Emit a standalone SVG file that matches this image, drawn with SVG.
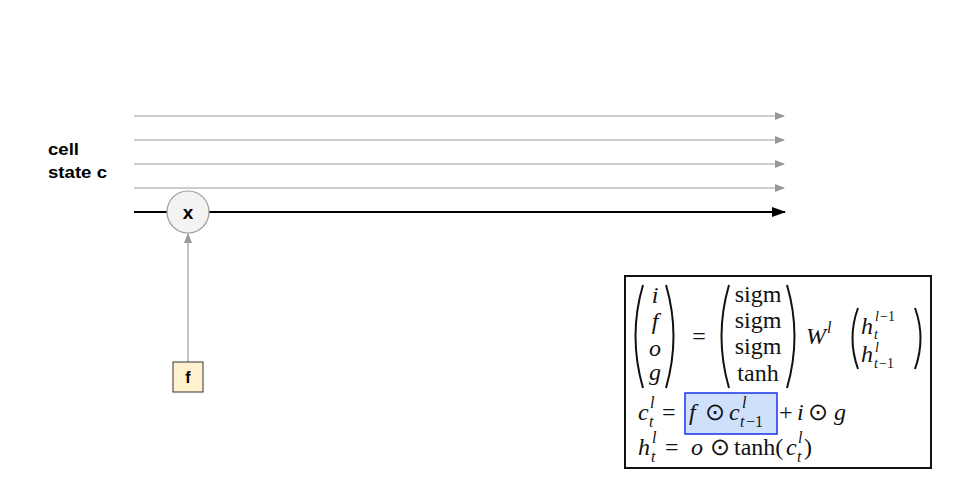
<svg xmlns="http://www.w3.org/2000/svg" width="954" height="478" viewBox="0 0 954 478">
<style>
.thin{stroke:#999;stroke-width:1.2;fill:none}
.lbl{font-family:"Liberation Sans",Arial,sans-serif;font-weight:bold;font-size:16px;fill:#000}
.m{font-family:"Liberation Serif","Times New Roman",serif;font-size:24px;fill:#111}
.mi{font-family:"Liberation Serif","Times New Roman",serif;font-size:24px;font-style:italic;fill:#111}
.s{font-family:"Liberation Serif","Times New Roman",serif;font-size:16px;font-style:italic;fill:#111}
.sn{font-family:"Liberation Serif","Times New Roman",serif;font-size:16px;fill:#111}
.s2{font-family:"Liberation Serif","Times New Roman",serif;font-size:14px;font-style:italic;fill:#111}
.sn2{font-family:"Liberation Serif","Times New Roman",serif;font-size:14px;fill:#111}
.par{fill:none;stroke:#111;stroke-width:2}
</style>
<defs>
<marker id="ag" markerWidth="10" markerHeight="8" refX="9" refY="4" orient="auto" markerUnits="userSpaceOnUse"><path d="M0,0 L10,4 L0,8 z" fill="#999"/></marker>
<marker id="ab" markerWidth="14" markerHeight="10" refX="13" refY="5" orient="auto" markerUnits="userSpaceOnUse"><path d="M0,0 L14,5 L0,10 z" fill="#000"/></marker>
</defs>
<rect width="954" height="478" fill="#fff"/>
<g id="label">
<text class="lbl" x="48" y="155" textLength="31" lengthAdjust="spacingAndGlyphs">cell</text>
<text class="lbl" x="48" y="178" textLength="59" lengthAdjust="spacingAndGlyphs">state c</text>
</g>
<g id="connectors">
<line class="thin" x1="134" y1="116" x2="784" y2="116" marker-end="url(#ag)"/>
<line class="thin" x1="134" y1="140" x2="784" y2="140" marker-end="url(#ag)"/>
<line class="thin" x1="134" y1="164" x2="784" y2="164" marker-end="url(#ag)"/>
<line class="thin" x1="134" y1="188" x2="784" y2="188" marker-end="url(#ag)"/>
<line x1="134" y1="212" x2="167" y2="212" stroke="#000" stroke-width="2"/>
<line x1="209" y1="212" x2="785" y2="212" stroke="#000" stroke-width="2" marker-end="url(#ab)"/>
<line class="thin" x1="188" y1="362" x2="188" y2="234" marker-end="url(#ag)"/>
</g>
<g id="mult">
<circle cx="188" cy="212" r="21" fill="#f3f3f3" stroke="#999" stroke-width="1.2"/>
<text class="lbl" x="188" y="219" text-anchor="middle" style="font-size:19px">x</text>
</g>
<g id="gate-f">
<rect x="173" y="362" width="30" height="30" fill="#fff2cc" stroke="#333" stroke-width="1"/>
<text class="lbl" x="188" y="383" text-anchor="middle">f</text>
</g>
<g id="equations">
<rect x="625" y="276" width="306" height="192" fill="#fff" stroke="#111" stroke-width="2"/>
<path class="par" d="M643,285 Q628,336 643,388"/>
<path class="par" d="M666,285 Q681,336 666,388"/>
<text class="mi" x="655" y="303" text-anchor="middle">i</text>
<text class="mi" x="655" y="329" text-anchor="middle">f</text>
<text class="mi" x="655" y="356" text-anchor="middle">o</text>
<text class="mi" x="655" y="380" text-anchor="middle">g</text>
<text class="m" x="699" y="344" text-anchor="middle">=</text>
<path class="par" d="M729,285 Q714,336 729,388"/>
<path class="par" d="M787,285 Q802,336 787,388"/>
<text class="m" x="758" y="302" text-anchor="middle">sigm</text>
<text class="m" x="758" y="328" text-anchor="middle">sigm</text>
<text class="m" x="758" y="354" text-anchor="middle">sigm</text>
<text class="m" x="758" y="381" text-anchor="middle">tanh</text>
<text class="mi" x="806" y="344">W</text>
<text class="s" x="827" y="333">l</text>
<path class="par" d="M858,308 Q847,338 858,369"/>
<path class="par" d="M915,308 Q926,338 915,369"/>
<text class="mi" x="861" y="334">h</text>
<text class="s2" x="874" y="339">t</text>
<text class="s2" x="875" y="321">l</text><text class="sn2" x="880" y="321">−1</text>
<text class="mi" x="861" y="362">h</text>
<text class="s2" x="875" y="352">l</text>
<text class="s2" x="874" y="368">t</text><text class="sn2" x="879" y="368">−1</text>
<text class="mi" x="638" y="420">c</text>
<text class="s" x="650" y="408">l</text>
<text class="s" x="649" y="427">t</text>
<text class="m" x="662" y="420">=</text>
<rect x="685" y="393" width="92" height="41" fill="#cfe0fb" stroke="#1a33ee" stroke-width="1.5"/>
<text class="mi" x="689" y="420">f</text>
<text class="m" x="705" y="420">⊙</text>
<text class="mi" x="729" y="420">c</text>
<text class="s" x="742" y="408">l</text>
<text class="s" x="740" y="427">t</text><text class="sn" x="746" y="427">−1</text>
<text class="m" x="779" y="420">+</text>
<text class="mi" x="797" y="420">i</text>
<text class="m" x="808" y="420">⊙</text>
<text class="mi" x="834" y="420">g</text>
<text class="mi" x="638" y="455">h</text>
<text class="s" x="652" y="443">l</text>
<text class="s" x="651" y="462">t</text>
<text class="m" x="665" y="455">=</text>
<text class="mi" x="691" y="455">o</text>
<text class="m" x="710" y="455">⊙</text>
<text class="m" x="734" y="455">tanh(</text>
<text class="mi" x="786" y="455">c</text>
<text class="s" x="798" y="443">l</text>
<text class="s" x="797" y="462">t</text>
<text class="m" x="804" y="455">)</text>
</g>
</svg>
